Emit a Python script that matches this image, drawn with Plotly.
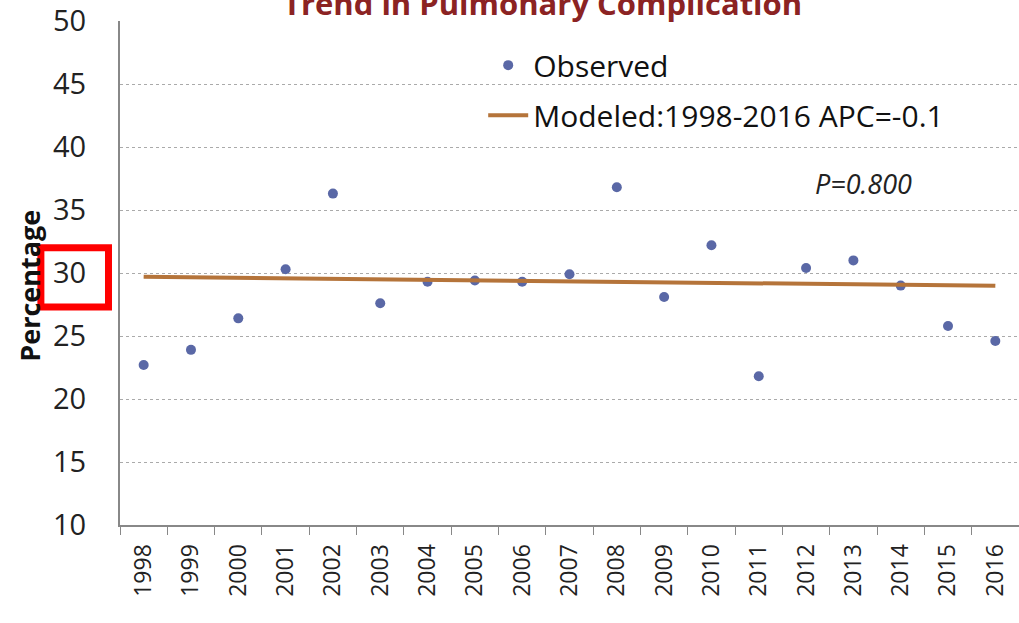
import plotly.graph_objects as go

# Trend in pulmonary complication, 1998-2016
years = ["1998", "1999", "2000", "2001", "2002", "2003", "2004", "2005", "2006", "2007",
         "2008", "2009", "2010", "2011", "2012", "2013", "2014", "2015", "2016"]
observed = [22.7, 23.9, 26.4, 30.3, 36.3, 27.6, 29.3, 29.4, 29.3, 29.9,
            36.8, 28.1, 32.2, 21.8, 30.4, 31.0, 29.0, 25.8, 24.6]
modeled = [29.70, 29.66, 29.62, 29.58, 29.54, 29.50, 29.46, 29.42, 29.38, 29.34,
           29.30, 29.26, 29.22, 29.18, 29.14, 29.10, 29.06, 29.02, 28.98]

FONT = "Open Sans"

fig = go.Figure()

fig.add_scatter(
    x=years, y=observed, mode="markers", name="Observed",
    marker=dict(color="#5A68A6", size=10),
    legendgroup="a",
)
fig.add_scatter(
    x=years, y=modeled, mode="lines", name="Modeled:1998-2016 APC=-0.1",
    line=dict(color="#B5743A", width=4),
    legendgroup="b",
)

# title is cut off at the top of the image
fig.add_annotation(
    text="<b>Trend in Pulmonary Complication</b>",
    xref="paper", yref="paper", x=0.47, y=0.99,
    xanchor="center", yanchor="bottom", showarrow=False,
    font=dict(family=FONT, size=31, color="#8B2323"),
)

# y-axis title sits a bit below the plot centre
fig.add_annotation(
    text="<b>Percentage</b>", textangle=-90,
    xref="paper", yref="y", x=-0.1, y=29.0,
    xanchor="center", yanchor="middle", showarrow=False,
    font=dict(family=FONT, size=27, color="#111"),
)

fig.add_annotation(
    text="<i>P=0.800</i>",
    xref="paper", yref="y", x=0.771, y=37.1,
    xanchor="left", yanchor="middle", showarrow=False,
    font=dict(family=FONT, size=27, color="#222"),
)

# red highlight box around the 30 tick label
fig.add_shape(
    type="rect", xref="paper", yref="y",
    x0=-0.088, x1=-0.0128, y0=27.3, y1=32.0,
    line=dict(color="#FF0000", width=7),
)

fig.update_layout(
    width=1019, height=623,
    margin=dict(l=120, r=0, t=21, b=98),
    paper_bgcolor="white", plot_bgcolor="white",
    font=dict(family=FONT, color="#222"),
    showlegend=True,
    legend=dict(
        x=0.404, y=0.964, xanchor="left", yanchor="top",
        font=dict(family=FONT, size=30, color="#111"),
        bgcolor="rgba(0,0,0,0)", tracegroupgap=8, itemwidth=40,
    ),
    yaxis=dict(
        range=[10, 50], dtick=5, automargin=False,
        showgrid=True, gridcolor="#AAAAAA", griddash="dot", gridwidth=1,
        showline=True, linecolor="#888888", linewidth=2,
        ticks="", ticklabelstandoff=26,
        tickfont=dict(family=FONT, size=29, color="#222"),
        zeroline=False,
    ),
    xaxis=dict(
        type="category", tickangle=-90, automargin=False,
        range=[-0.5, len(years) - 0.5],
        showgrid=False, showline=True, linecolor="#888888", linewidth=2,
        ticks="outside", tickson="boundaries", ticklen=8, tickcolor="#888888",
        ticklabelstandoff=8,
        tickfont=dict(family=FONT, size=23, color="#222"),
    ),
)

# drop the default 8px body margin so the figure sits at the page corner
fig.write_html(
    "out.html",
    config={"displayModeBar": False},
    post_script="document.body.style.margin='0';",
)
